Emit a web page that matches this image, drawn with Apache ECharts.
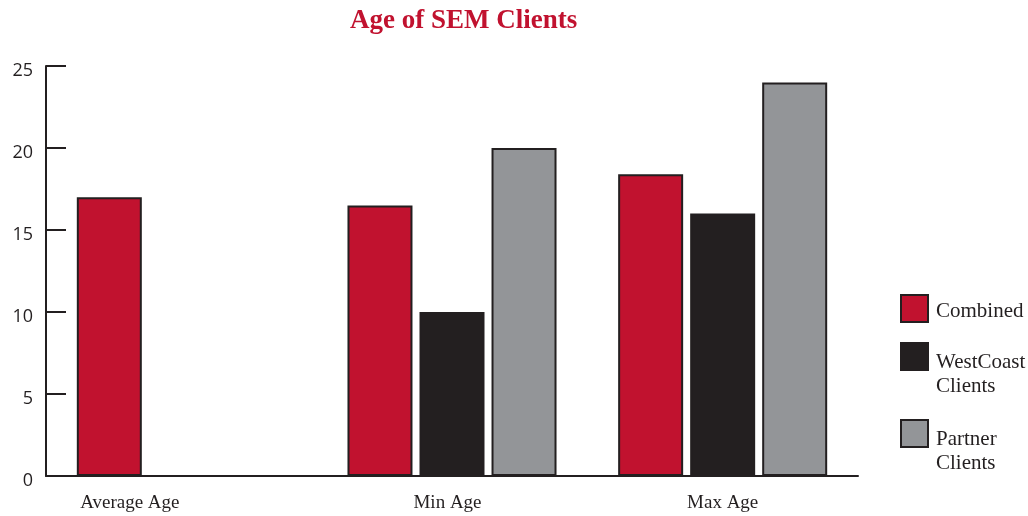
<!DOCTYPE html>
<html>
<head>
<meta charset="utf-8">
<title>Age of SEM Clients</title>
<script src="https://cdn.jsdelivr.net/npm/echarts@6/dist/echarts.min.js"></script>
<style>
  html, body { margin: 0; padding: 0; background: #fff; }
  #chart { width: 1028px; height: 516px; }
</style>
</head>
<body>
<div id="chart"></div>
<script>
var categories = ['Average Age', 'Min Age', 'Max Age']
var combined = [17, 16.5, 18.4]
var westCoast = [null, 10, 16]
var partner = [null, 20, 24]
var yTicks = [0, 5, 10, 15, 20, 25]

var red = '#C1122F'
var dark = '#231F20'
var grey = '#939598'
var serif = '"Liberation Serif", "DejaVu Serif", serif'

var mychart = echarts.init(document.getElementById('chart'))

function barSeries (name, color, values) {
  return {
    name: name,
    type: 'bar',
    data: values,
    barWidth: 65,
    barGap: '10.8%',
    itemStyle: {
      color: color,
      borderColor: dark,
      borderWidth: 2
    }
  }
}

// blank lines push the text down so it sits level with / below the square
function legendFor (name, top, blankLines, lineHeight) {
  return {
    orient: 'vertical',
    left: 900,
    top: top,
    padding: 0,
    itemWidth: 27,
    itemHeight: 27,
    itemGap: 9,
    icon: 'rect',
    selectedMode: false,
    data: [name],
    formatter: function (n) {
      var parts = n.split('\n')
      var lines = []
      for (var i = 0; i < blankLines; i++) lines.push('')
      lines.push(parts[0])
      if (parts[1]) {
        lines.push('')
        lines.push(parts[1])
      }
      return lines.join('\n')
    },
    textStyle: {
      fontFamily: serif,
      fontSize: 21,
      lineHeight: lineHeight,
      color: dark,
      padding: [0, 0, 0, 3]
    }
  }
}

var myoption = {
  animation: false,
  title: {
    text: 'Age of SEM Clients',
    left: 350,
    top: 8,
    padding: 0,
    textStyle: {
      fontFamily: serif,
      fontWeight: 'bold',
      fontSize: 27,
      color: red
    }
  },
  legend: [
    legendFor('Combined', 294, 1, 5),
    legendFor('WestCoast\nClients', 316, 3, 12),
    legendFor('Partner\nClients', 393, 3, 12)
  ],
  grid: {
    left: 46,
    right: 170,
    top: 66,
    bottom: 40
  },
  xAxis: {
    type: 'category',
    data: [
      { value: categories[0], textStyle: { padding: [0, 103, 0, 0] } },
      { value: categories[1], textStyle: { padding: [0, 9, 0, 0] } },
      categories[2]
    ],
    axisLine: { lineStyle: { color: dark, width: 2 } },
    axisTick: {
      inside: true,
      length: 10,
      lineStyle: { color: dark, width: 2 }
    },
    axisLabel: {
      fontFamily: serif,
      fontSize: 19,
      color: dark,
      margin: 18
    }
  },
  yAxis: {
    type: 'value',
    min: yTicks[0],
    max: yTicks[yTicks.length - 1],
    interval: 5,
    axisLine: { show: true, lineStyle: { color: dark, width: 2 } },
    axisTick: {
      show: true,
      inside: true,
      length: 20,
      lineStyle: { color: dark, width: 2 }
    },
    splitLine: { show: false },
    axisLabel: {
      fontFamily: '"Open Sans", "Noto Sans", sans-serif',
      fontSize: 18,
      color: dark,
      margin: 13,
      verticalAlign: 'top',
      lineHeight: 9
    }
  },
  series: [
    barSeries('Combined', red, combined),
    barSeries('WestCoast\nClients', dark, westCoast),
    barSeries('Partner\nClients', grey, partner)
  ]
}

mychart.setOption(myoption)
</script>
</body>
</html>
